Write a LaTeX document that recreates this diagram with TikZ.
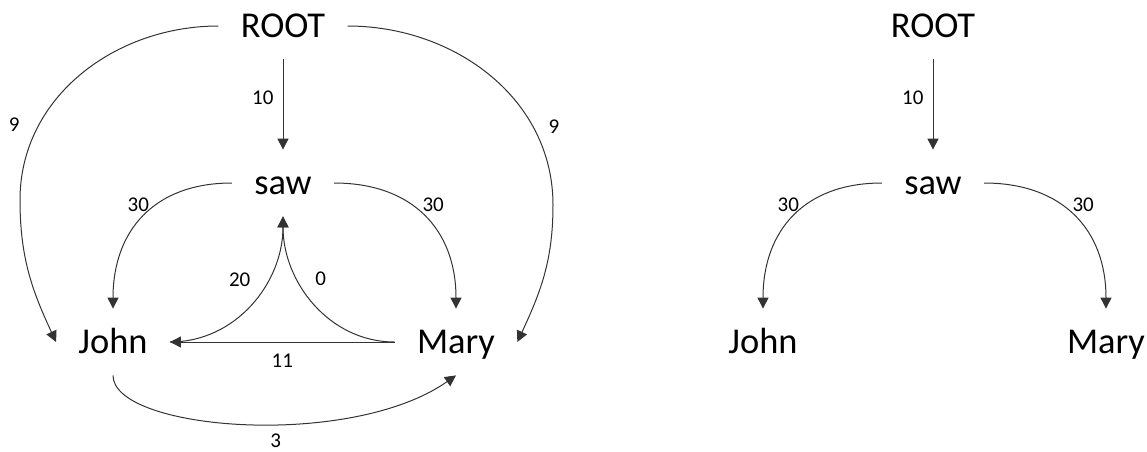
\documentclass[tikz,border=0pt]{standalone}
\usepackage{fontspec}
\setmainfont{Carlito}
\usetikzlibrary{arrows.meta}

\tikzset{
  word/.style={font=\fontsize{18.2}{22}\selectfont, inner xsep=11pt, inner ysep=0pt,
    minimum height=33pt, text height=15.5pt, text depth=3.6pt},
  wt/.style={font=\fontsize{10.5}{12}\selectfont, inner sep=3.5pt},
  edge/.style={draw=black!80, line width=0.5pt, -{Triangle[length=5.5pt,width=5.5pt]}},
}

\begin{document}
\begin{tikzpicture}[x=0.5pt, y=-0.5pt]
  \useasboundingbox (0,0) rectangle (1147,451);
  % Tree part, drawn in both graphs
  \foreach \dx/\g in {0/L, 650/R} {
    \node[word] (root\g) at (283+\dx,26) {ROOT};
    \node[word] (saw\g) at (283+\dx,183) {saw};
    \node[word] (john\g) at (113+\dx,342) {John};
    \node[word] (mary\g) at (456+\dx,342) {Mary};
    \draw[edge] (root\g) -- node[wt, left=1pt, pos=0.42] {10} (saw\g);
    \draw[edge] (saw\g.west) to[out=180, in=90, looseness=1.15] node[wt, left, pos=0.4] {30} (john\g.north);
    \draw[edge] (saw\g.east) to[out=0, in=90, looseness=1.15] node[wt, right=2pt, pos=0.4] {30} (mary\g.north);
  }
  % Other edges of the full graph
  \draw[edge] (rootL.west) to[out=180, in=90] node[wt, left=6pt, pos=0.73] {9} (20,200)
    to[out=-90, in=115] (johnL.west);
  \draw[edge] (rootL.east) to[out=0, in=90] node[wt, right=4pt, pos=0.73] {9} (553,205)
    to[out=-90, in=65] (maryL.east);
  \draw[edge] (johnL.east) to[out=0, in=-90] node[wt, left=5pt, pos=0.66] {20} (sawL.south);
  \draw[edge] (maryL.west) to[out=180, in=-90] node[wt, right=5pt, pos=0.66] {0} (sawL.south);
  \draw[edge] (maryL.west) -- node[wt, below=2pt] {11} (johnL.east);
  \draw[edge] (johnL.south) to[out=-90, in=215, out looseness=0.41, in looseness=0.97]
    node[wt, inner sep=0.5pt, below=4pt, pos=0.57] {3} (maryL.south);
\end{tikzpicture}
\end{document}
